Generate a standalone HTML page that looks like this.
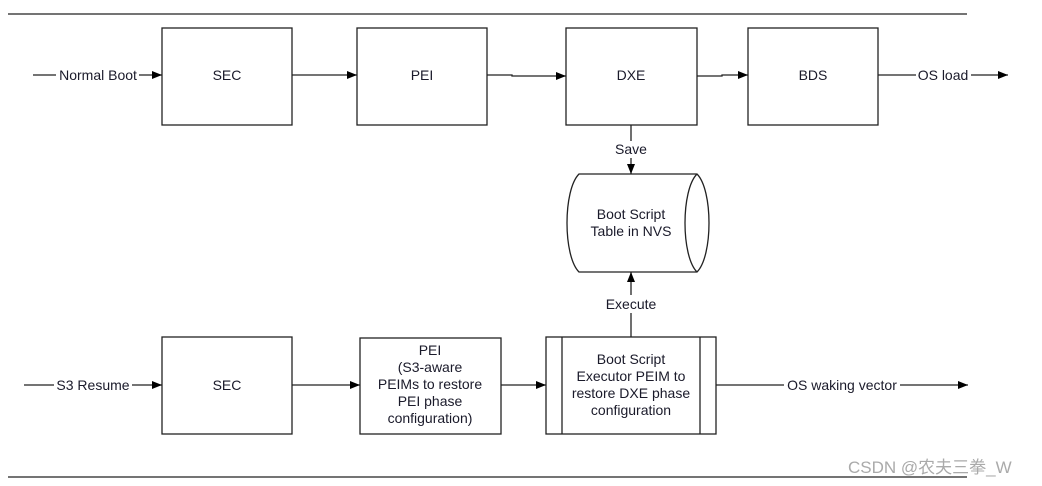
<!DOCTYPE html>
<html><head><style>
html,body{margin:0;padding:0;background:#fff;}
svg{display:block;}
text{font-family:"Liberation Sans",Arial,sans-serif;font-size:14px;fill:#1a1a2a;}
</style></head><body>
<svg width="1042" height="486" viewBox="0 0 1042 486" xmlns="http://www.w3.org/2000/svg">
<defs><marker id="a" markerWidth="10" markerHeight="8" refX="10" refY="4" orient="auto" markerUnits="userSpaceOnUse"><path d="M0,0 L10,4 L0,8 z" fill="#000"/></marker></defs>
<g stroke="#222" stroke-width="1.3" fill="none">
<line x1="8" y1="14" x2="967" y2="14"/>
<line x1="8" y1="477" x2="967" y2="477"/>
<rect x="162" y="28" width="130" height="97"/>
<rect x="357" y="28" width="130" height="97"/>
<rect x="566" y="28" width="131" height="97"/>
<rect x="748" y="28" width="130" height="97"/>
<rect x="162" y="337" width="130" height="97"/>
<rect x="360" y="338" width="141" height="96"/>
<rect x="546" y="337" width="170" height="97"/>
<line x1="562" y1="337" x2="562" y2="434"/>
<line x1="700" y1="337" x2="700" y2="434"/>
<path d="M579,174 L697,174 C713,190 713,256 697,272 L579,272 C563,256 563,190 579,174 Z"/>
<path d="M697,174 C681,190 681,256 697,272"/>
<line x1="33" y1="75" x2="56" y2="75"/>
<line x1="139" y1="75" x2="162" y2="75" marker-end="url(#a)"/>
<line x1="292" y1="75" x2="357" y2="75" marker-end="url(#a)"/>
<polyline points="487,75 512,75 512,76 566,76" marker-end="url(#a)"/>
<polyline points="697,76 722,76 722,75 748,75" marker-end="url(#a)"/>
<line x1="878" y1="75" x2="916" y2="75"/>
<line x1="971" y1="75" x2="1008" y2="75" marker-end="url(#a)"/>
<line x1="631" y1="125" x2="631" y2="141"/>
<line x1="631" y1="158" x2="631" y2="174" marker-end="url(#a)"/>
<line x1="631" y1="337" x2="631" y2="313"/>
<line x1="631" y1="295" x2="631" y2="272" marker-end="url(#a)"/>
<line x1="24" y1="385" x2="54" y2="385"/>
<line x1="132" y1="385" x2="162" y2="385" marker-end="url(#a)"/>
<line x1="292" y1="385" x2="360" y2="385" marker-end="url(#a)"/>
<line x1="501" y1="385" x2="546" y2="385" marker-end="url(#a)"/>
<line x1="716" y1="385" x2="784" y2="385"/>
<line x1="900" y1="385" x2="968" y2="385" marker-end="url(#a)"/>
</g>
<g text-anchor="middle">
<text x="98" y="80">Normal Boot</text>
<text x="227" y="80">SEC</text>
<text x="422" y="80">PEI</text>
<text x="631" y="80">DXE</text>
<text x="813" y="80">BDS</text>
<text x="943" y="80">OS load</text>
<text x="631" y="154">Save</text>
<text x="631" y="219">Boot Script</text>
<text x="631" y="236">Table in NVS</text>
<text x="631" y="309">Execute</text>
<text x="93" y="390">S3 Resume</text>
<text x="227" y="390">SEC</text>
<text x="430" y="355">PEI</text>
<text x="430" y="372">(S3-aware</text>
<text x="430" y="389">PEIMs to restore</text>
<text x="430" y="406">PEI phase</text>
<text x="430" y="423">configuration)</text>
<text x="631" y="364">Boot Script</text>
<text x="631" y="381">Executor PEIM to</text>
<text x="631" y="398">restore DXE phase</text>
<text x="631" y="415">configuration</text>
<text x="842" y="390">OS waking vector</text>
</g>
<text x="848" y="473" style="font-size:17px;fill:#aaa;font-family:'Liberation Sans','Noto Sans CJK SC',sans-serif">CSDN @农夫三拳_W</text>
</svg>
</body></html>
